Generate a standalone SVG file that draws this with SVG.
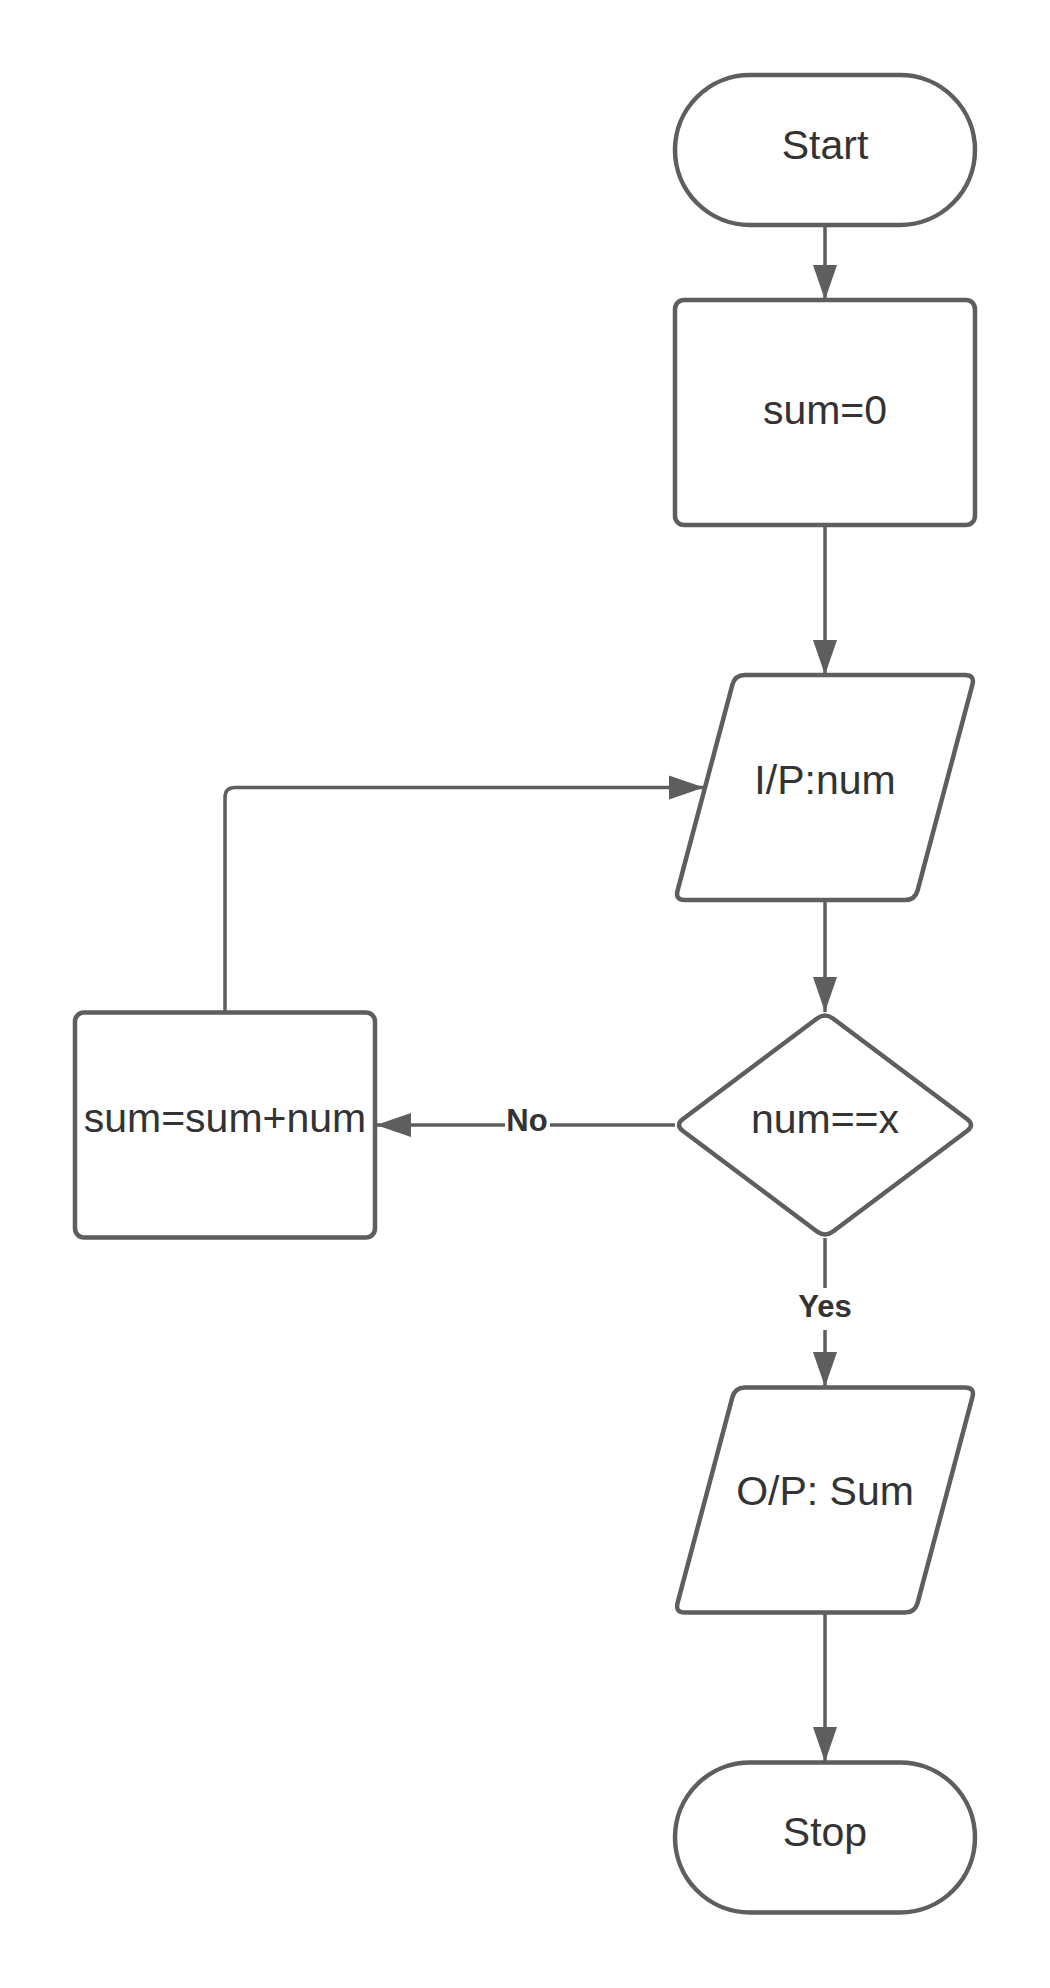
<svg xmlns="http://www.w3.org/2000/svg" width="1050" height="1988" viewBox="0 0 1050 1988">
<style>
.shape{fill:#ffffff;stroke:#5e5e5e;stroke-width:4.5;stroke-linejoin:round}
.txt{font-family:"Liberation Sans",Arial,sans-serif;font-size:41px;fill:#333333;text-anchor:middle}
.lbl{font-family:"Liberation Sans",Arial,sans-serif;font-size:31px;font-weight:bold;fill:#333333;text-anchor:middle}
.conn{fill:none;stroke:#5e5e5e;stroke-width:3.5}
</style>
<defs>
<marker id="arr" markerUnits="userSpaceOnUse" markerWidth="38" markerHeight="26" refX="35" refY="13" orient="auto">
<path d="M0,1 L35,13 L0,25 Z" fill="#5e5e5e"/>
</marker>
</defs>
<rect width="1050" height="1988" fill="#ffffff"/>
<g id="connectors">
<line class="conn" x1="825" y1="225" x2="825" y2="300" marker-end="url(#arr)"/>
<line class="conn" x1="825" y1="525" x2="825" y2="675" marker-end="url(#arr)"/>
<line class="conn" x1="825" y1="900" x2="825" y2="1012" marker-end="url(#arr)"/>
<line class="conn" x1="825" y1="1238" x2="825" y2="1387" marker-end="url(#arr)"/>
<line class="conn" x1="675" y1="1125" x2="376" y2="1125" marker-end="url(#arr)"/>
<path class="conn" d="M225,1012 V797.5 Q225,787.5 235,787.5 H704" marker-end="url(#arr)"/>
<line class="conn" x1="825" y1="1613" x2="825" y2="1762" marker-end="url(#arr)"/>
<rect x="790" y="1288" width="70" height="42" fill="#ffffff"/>
<text class="lbl" x="825" y="1317">Yes</text>
<rect x="505" y="1105" width="45" height="36" fill="#ffffff"/>
<text class="lbl" x="527" y="1131">No</text>
</g>
<g id="start">
<rect class="shape" x="675" y="75" width="300" height="150" rx="75" ry="75"/>
<text class="txt" x="825" y="159">Start</text>
</g>
<g id="init">
<rect class="shape" x="675" y="300" width="300" height="225" rx="9" ry="9"/>
<text class="txt" x="825" y="424">sum=0</text>
</g>
<g id="input">
<path class="shape" d="M745,675 H965 Q975,675 972.4,684.7 L917.6,890.3 Q915,900 905,900 H685 Q675,900 677.6,890.3 L732.4,684.7 Q735,675 745,675 Z"/>
<text class="txt" x="825" y="794">I/P:num</text>
</g>
<g id="decision">
<path class="shape" d="M833,1018.5 L967,1119 Q975,1125 967,1131 L833,1231.5 Q825,1237.5 817,1231.5 L683,1131 Q675,1125 683,1119 L817,1018.5 Q825,1012.5 833,1018.5 Z"/>
<text class="txt" x="825" y="1133">num==x</text>
</g>
<g id="add">
<rect class="shape" x="75" y="1012.5" width="300" height="225" rx="9" ry="9"/>
<text class="txt" x="225" y="1132">sum=sum+num</text>
</g>
<g id="output">
<path class="shape" transform="translate(0,712.5)" d="M745,675 H965 Q975,675 972.4,684.7 L917.6,890.3 Q915,900 905,900 H685 Q675,900 677.6,890.3 L732.4,684.7 Q735,675 745,675 Z"/>
<text class="txt" x="825" y="1505">O/P: Sum</text>
</g>
<g id="stop">
<rect class="shape" x="675" y="1762.5" width="300" height="150" rx="75" ry="75"/>
<text class="txt" x="825" y="1846">Stop</text>
</g>
</svg>
